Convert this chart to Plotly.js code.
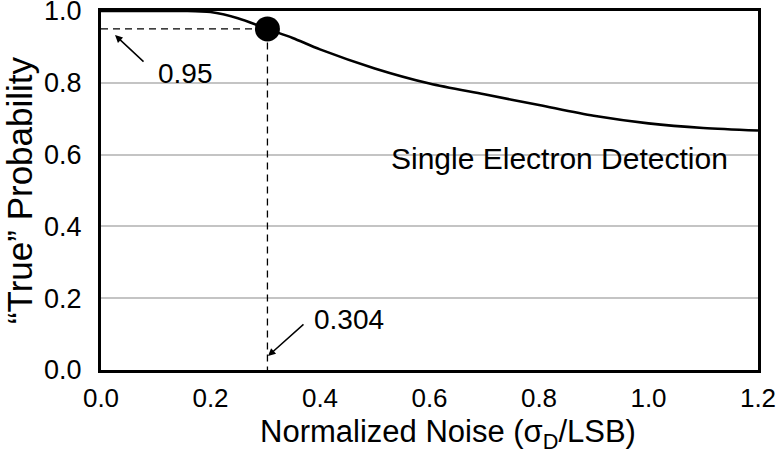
<!DOCTYPE html>
<html>
<head>
<meta charset="utf-8">
<script src="https://cdn.plot.ly/plotly-3.0.1.min.js"></script>
<style>
  html, body { margin: 0; padding: 0; background: #fff; }
  #chart { width: 780px; height: 452px; }
</style>
</head>
<body>
<div id="chart"></div>
<script>
// Probability of a correct count vs. normalized read noise
const noiseX = [0, 0.1, 0.15, 0.2, 0.25, 0.304, 0.35, 0.4, 0.5, 0.6, 0.7, 0.8, 0.9, 1.0, 1.1, 1.2];
const trueProb = [1.0, 1.0, 1.0, 0.997, 0.98, 0.95, 0.925, 0.893, 0.84, 0.798, 0.768, 0.738, 0.708, 0.687, 0.674, 0.667];

// Highlighted operating point
const markX = 0.304;
const markY = 0.95;

const xTicks = [0, 0.2, 0.4, 0.6, 0.8, 1.0, 1.2];
const yTicks = [0, 0.2, 0.4, 0.6, 0.8, 1.0];

const FONT = 'Arial, "Liberation Sans", sans-serif';

const traces = [
  {
    x: [0, markX, markX],
    y: [markY, markY, 0],
    mode: 'lines',
    line: { color: '#000', width: 1.3, dash: '7px,5px' },
    hoverinfo: 'skip',
    cliponaxis: false
  },
  {
    x: noiseX,
    y: trueProb,
    mode: 'lines',
    line: { color: '#000', width: 2.6, shape: 'spline', smoothing: 0.8 },
    cliponaxis: false
  },
  {
    x: [markX],
    y: [markY],
    mode: 'markers',
    marker: { color: '#000', size: 25 },
    cliponaxis: false
  }
];

const layout = {
  width: 780,
  height: 452,
  margin: { l: 101, r: 22, t: 11, b: 82 },
  paper_bgcolor: '#fff',
  plot_bgcolor: '#fff',
  showlegend: false,
  font: { family: FONT, color: '#000', size: 24 },
  xaxis: {
    range: [0, 1.2],
    tickvals: xTicks,
    ticktext: xTicks.map(v => v.toFixed(1)),
    showgrid: false,
    zeroline: false,
    showline: true,
    linecolor: '#000',
    linewidth: 3,
    mirror: true,
    ticks: '',
    ticklabelstandoff: 3,
    ticklabeloverflow: 'allow',
    tickfont: { size: 26, family: FONT }
  },
  yaxis: {
    range: [0, 1.0],
    tickvals: yTicks,
    ticktext: yTicks.map(v => v.toFixed(1)),
    showgrid: true,
    gridcolor: '#c4c4c4',
    gridwidth: 2,
    zeroline: false,
    showline: true,
    linecolor: '#000',
    linewidth: 3,
    mirror: true,
    ticks: '',
    ticklabelstandoff: 11,
    ticklabeloverflow: 'allow',
    tickfont: { size: 27, family: FONT },
    title: { text: '“True” Probability', font: { size: 35, family: FONT }, standoff: 1 }
  },
  annotations: [
    {
      // x-axis title, set slightly right of the plot centre
      x: 0.5274, y: 0, xref: 'paper', yref: 'paper',
      xanchor: 'center', yanchor: 'middle', yshift: -64,
      text: 'Normalized Noise (σ<sub>D</sub>/LSB)', showarrow: false,
      font: { size: 31, family: FONT }
    },
    {
      x: 0.0256, y: 0.933, xref: 'x', yref: 'y',
      ax: 30, ay: 28, axref: 'pixel', ayref: 'pixel',
      text: '', showarrow: true, arrowhead: 2, arrowsize: 1, arrowwidth: 1.5, arrowcolor: '#000'
    },
    {
      x: 0.1, y: 0.826, xref: 'x', yref: 'y',
      text: '0.95', showarrow: false, xanchor: 'left', font: { size: 28, family: FONT }
    },
    {
      x: 0.305, y: 0.039, xref: 'x', yref: 'y',
      ax: 37, ay: -33, axref: 'pixel', ayref: 'pixel',
      text: '', showarrow: true, arrowhead: 2, arrowsize: 1, arrowwidth: 1.5, arrowcolor: '#000'
    },
    {
      x: 0.385, y: 0.142, xref: 'x', yref: 'y',
      text: '0.304', showarrow: false, xanchor: 'left', font: { size: 28, family: FONT }
    },
    {
      x: 0.526, y: 0.588, xref: 'x', yref: 'y',
      text: 'Single Electron Detection', showarrow: false, xanchor: 'left', font: { size: 30, family: FONT }
    }
  ]
};

Plotly.newPlot('chart', traces, layout, { staticPlot: true, displayModeBar: false });
</script>
</body>
</html>
